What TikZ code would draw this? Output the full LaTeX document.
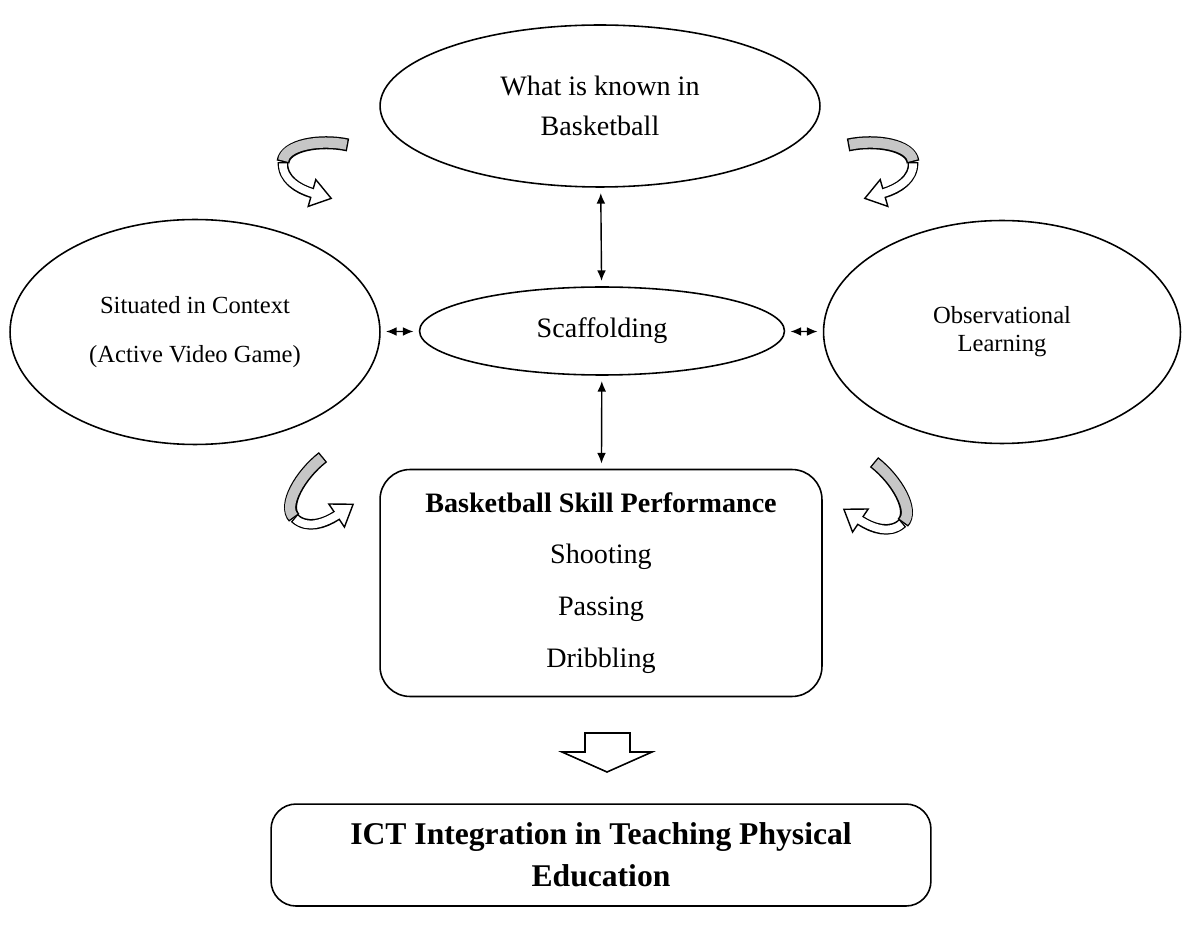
\documentclass[tikz,border=0pt]{standalone}
\usepackage{fontspec}
\setmainfont{Liberation Serif}
\usetikzlibrary{arrows.meta,positioning,shapes.geometric}

\tikzset{
  twist/.pic={
    % outlines first
    \draw[line width=7.4pt] (48,-22) .. controls (20,-28) and (-15,-22) .. (-17,-5);
    \draw[line width=6pt] (-17,-5) .. controls (-18,12) and (-2,22) .. (12,26);
    \filldraw[fill=white, line width=0.8pt, line join=miter] (8.2,39.4) -- (31.2,31.4) -- (15.8,12.6) -- cycle;
    % then the insides
    \draw[line width=5.8pt, gray!45, shorten <=0.8pt, shorten >=0.8pt] (48,-22) .. controls (20,-28) and (-15,-22) .. (-17,-5);
    \draw[line width=4.4pt, white, shorten <=0.8pt, shorten >=-2pt] (-17,-5) .. controls (-18,12) and (-2,22) .. (12,26);
  }
}

\begin{document}
\begin{tikzpicture}[x=0.02cm,y=-0.02cm,line width=0.9pt,
    oval/.style={ellipse, draw, inner sep=0pt, align=center},
    block/.style={rectangle, draw, rounded corners=0.6cm, inner sep=0pt, align=center},
    link/.style={{Latex[length=6pt,width=5pt]}-{Latex[length=6pt,width=5pt]}, line width=0.8pt, shorten >=3pt, shorten <=3pt}]
  \useasboundingbox (0,0) rectangle (1183,935);

  \node[oval, minimum width=8.8cm, minimum height=3.24cm, font=\fontsize{16}{23}\selectfont] (known) at (600,106) {What is known in\\Basketball};
  \node[oval, minimum width=7.3cm, minimum height=1.76cm, font=\fontsize{16}{20}\selectfont] (scaf) at (602,331) {Scaffolding};
  \node[oval, minimum width=7.4cm, minimum height=4.5cm, font=\fontsize{14}{28}\selectfont] (ctx) at (195,332) {Situated in Context\\(Active Video Game)};
  \node[oval, minimum width=7.14cm, minimum height=4.46cm, font=\fontsize{14}{16}\selectfont] (obs) at (1002,332) {Observational\\Learning};
  \node[block, minimum width=8.84cm, minimum height=4.54cm, font=\fontsize{16}{29.5}\selectfont] (skill) at (601,583)
    {\textbf{Basketball Skill Performance}\\Shooting\\Passing\\Dribbling};
  \node[block, rounded corners=0.5cm, minimum width=13.2cm, minimum height=2.04cm, font=\fontsize{18}{24}\selectfont\bfseries,
    below=2.12cm of skill] (ict) {ICT Integration in Teaching Physical\\Education};

  \path[link]
    (known) edge (scaf)
    (scaf) edge (skill)
    (ctx) edge (scaf)
    (obs) edge (scaf);

  % big arrow down
  \draw[line width=0.9pt, line join=miter] (585,733) -- (630,733) -- (630,752) -- (652,752) -- (607,772) -- (562,752) -- (585,752) -- cycle;

  % curved arrows
  \pic at (300,167) {twist};
  \pic[xscale=-1] at (896,167) {twist};
  \pic[rotate=50] at (309,508) {twist};
  \pic[xscale=-1,rotate=50] at (888,513) {twist};
\end{tikzpicture}
\end{document}
